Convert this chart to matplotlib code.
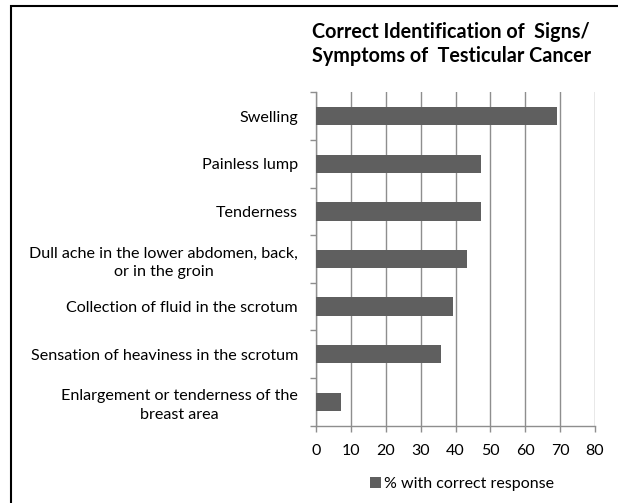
import matplotlib.pyplot as plt
from matplotlib.patches import Rectangle

symptoms = [
    "Swelling",
    "Painless lump",
    "Tenderness",
    "Dull ache in the lower abdomen, back,\nor in the groin",
    "Collection of fluid in the scrotum",
    "Sensation of heaviness in the scrotum",
    "Enlargement or tenderness of the\nbreast area",
]
pct_correct = [69.1, 47.3, 47.3, 43.3, 39.3, 35.8, 7.3]
x_ticks = [0, 10, 20, 30, 40, 50, 60, 70, 80]

plt.rcParams['font.family'] = ['Lato', 'DejaVu Sans']

fig = plt.figure(figsize=(6.18, 5.03), dpi=100)
ax = fig.add_axes([316 / 618, 1 - 425.6 / 503, 279 / 618, 333.3 / 503])

bar_color = '#5f5f5f'
grid_color = '#8e8e8e'

pos = list(range(len(symptoms)))
ax.barh(pos, pct_correct, height=0.385, color=bar_color, zorder=3,
        label='% with correct response')
ax.set_ylim(len(symptoms) - 0.5, -0.5)
ax.set_xlim(0, 80)
ax.set_xticks(x_ticks)
ax.set_xticklabels([str(v) for v in x_ticks], fontsize=11.5)

ax.set_yticks(pos)
ax.set_yticklabels(symptoms, fontsize=11.6, multialignment='center',
                   linespacing=1.45)
ax.set_yticks([p - 0.5 for p in pos] + [len(pos) - 0.5], minor=True)
ax.tick_params(axis='y', which='major', length=0, pad=13)
ax.tick_params(axis='y', which='minor', length=4, color=grid_color, width=1)
ax.tick_params(axis='x', length=4, color=grid_color, width=1, pad=9)

ax.grid(axis='x', color=grid_color, linewidth=1, zorder=0)
for s in ['top', 'right']:
    ax.spines[s].set_visible(False)
for s in ['left', 'bottom']:
    ax.spines[s].set_color(grid_color)
    ax.spines[s].set_linewidth(1)

fig.text(312 / 618, 1 - 44 / 503,
         'Correct Identification of  Signs/\nSymptoms of  Testicular Cancer',
         fontsize=14.2, fontweight='bold', ha='left', va='center',
         linespacing=1.3)

ax.legend(loc='center', bbox_to_anchor=(0.523, 1 - (484 - 92.3) / 333.3),
          frameon=False, fontsize=11.5, handlelength=0.7, handleheight=0.7,
          handletextpad=0.2)

# outer border (only top and left edges fall inside the image)
fig.patches.append(Rectangle((11 / 618, -0.1), 1.2, 1 - 6 / 503 + 0.1,
                             transform=fig.transFigure, fill=False,
                             edgecolor='black', linewidth=1.5))

fig.savefig('out.png', dpi=100)
